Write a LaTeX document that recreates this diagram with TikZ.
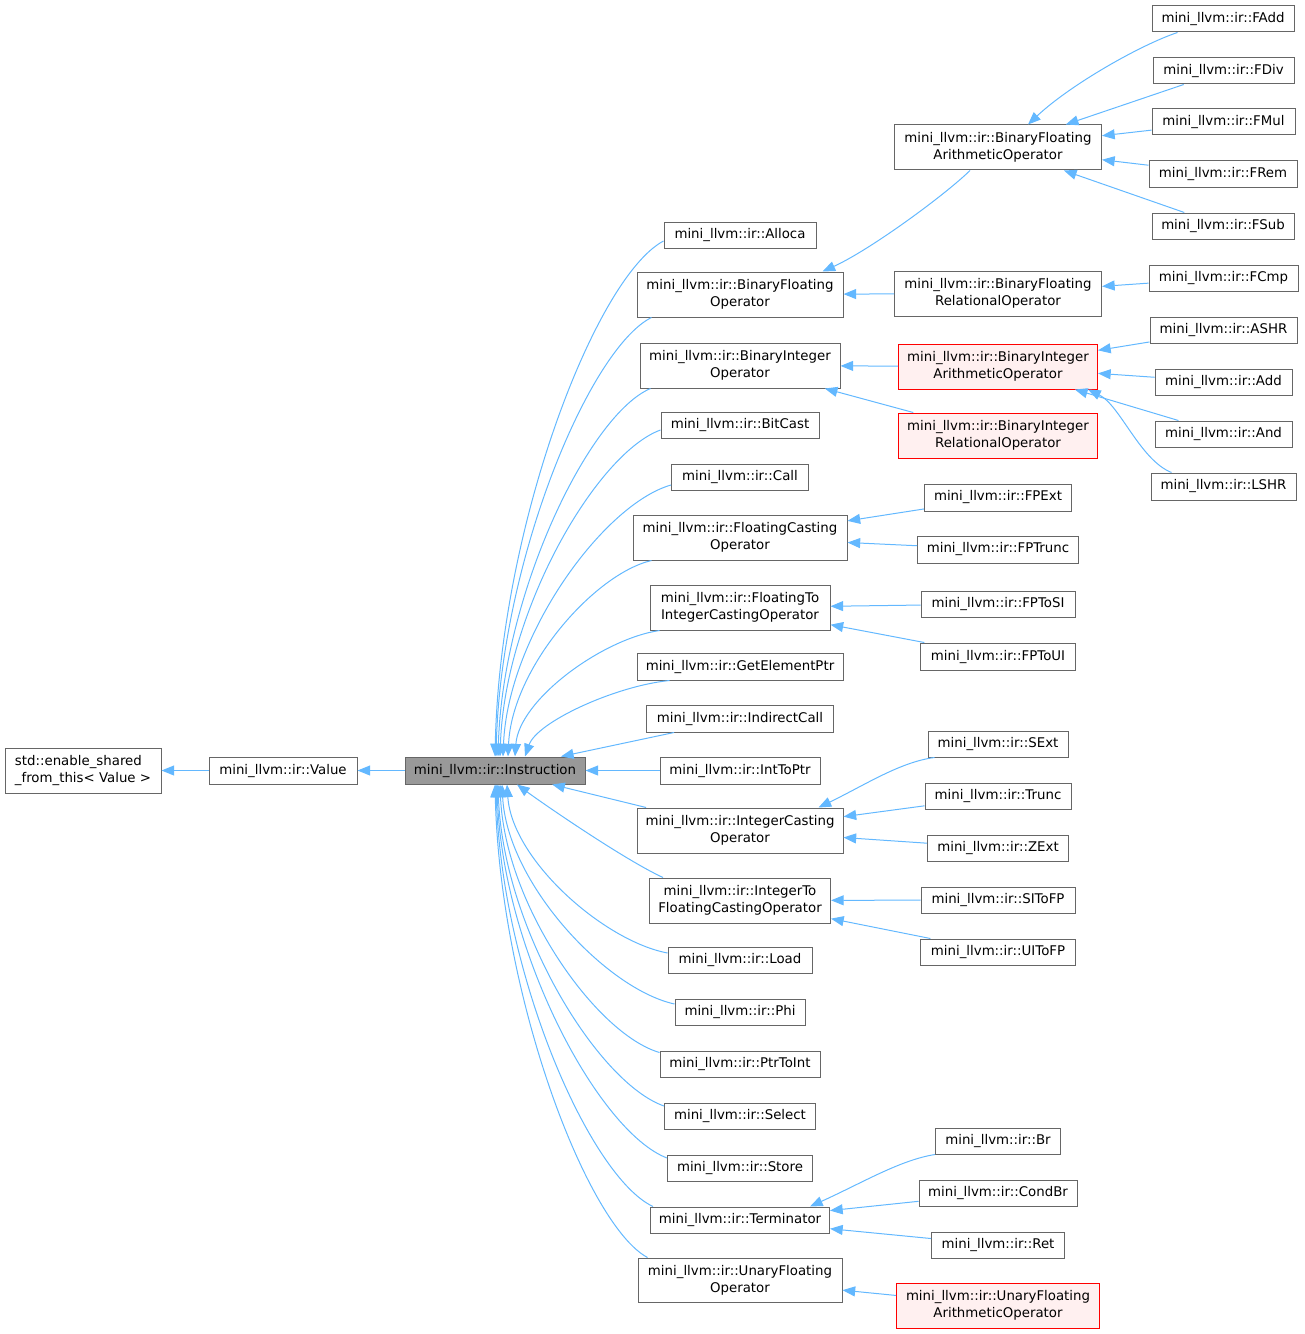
\documentclass[tikz,border=0pt]{standalone}
\usepackage{fontspec}
\setmainfont{DejaVu Sans}
\usetikzlibrary{arrows.meta,calc}
\definecolor{edgeblue}{HTML}{63B8FF}
\definecolor{boxgray}{HTML}{666666}
\definecolor{instfill}{HTML}{999999}
\definecolor{redfill}{HTML}{FFF0F0}
\newdimen\pxu \pxu=0.75pt
\tikzset{
  cls/.style={draw=boxgray, line width=0.75pt, fill=white, inner sep=0pt, align=center,
    font=\fontsize{10pt}{12.75pt}\selectfont, minimum height=26\pxu},
  cls2/.style={cls, minimum height=45\pxu},
  redcls/.style={cls2, draw=red, fill=redfill},
  inh/.style={draw=edgeblue, line width=0.75pt, {Triangle[length=9.5pt,width=7.5pt]}-},
}
\begin{document}
\begin{tikzpicture}[x=0.75pt, y=-0.75pt]
\useasboundingbox (0,0) rectangle (1304,1334);

% left column
\node[cls2, align=left, minimum width=156\pxu] (std) at (83,770.5) {std::enable\_shared\\\_from\_this< Value >};
\node[cls, minimum width=148\pxu, minimum height=27\pxu] (value) at (283,770.5) {mini\_llvm::ir::Value};
\node[cls, minimum width=180\pxu, minimum height=27\pxu, fill=instfill] (instr) at (495,770.5) {mini\_llvm::ir::Instruction};

% middle column
\node[cls, minimum width=152\pxu] (alloca) at (740,235) {mini\_llvm::ir::Alloca};
\node[cls2, minimum width=206\pxu] (bfo) at (740,294.5) {mini\_llvm::ir::BinaryFloating\\Operator};
\node[cls2, minimum width=200\pxu] (bio) at (740,365.5) {mini\_llvm::ir::BinaryInteger\\Operator};
\node[cls, minimum width=158\pxu] (bitcast) at (740,425) {mini\_llvm::ir::BitCast};
\node[cls, minimum width=137\pxu] (call) at (740,477) {mini\_llvm::ir::Call};
\node[cls2, minimum width=214\pxu] (fco) at (740,537.5) {mini\_llvm::ir::FloatingCasting\\Operator};
\node[cls2, minimum width=180\pxu] (fti) at (740,607.5) {mini\_llvm::ir::FloatingTo\\IntegerCastingOperator};
\node[cls, minimum width=206\pxu, minimum height=27\pxu] (gep) at (740,666.5) {mini\_llvm::ir::GetElementPtr};
\node[cls, minimum width=187\pxu, minimum height=27\pxu] (icall) at (740,718.5) {mini\_llvm::ir::IndirectCall};
\node[cls, minimum width=160\pxu, minimum height=27\pxu] (inttoptr) at (740,770.5) {mini\_llvm::ir::IntToPtr};
\node[cls2, minimum width=206\pxu] (ico) at (740,830.5) {mini\_llvm::ir::IntegerCasting\\Operator};
\node[cls2, minimum width=181\pxu] (itf) at (740,900.5) {mini\_llvm::ir::IntegerTo\\FloatingCastingOperator};
\node[cls, minimum width=144\pxu] (load) at (740,960) {mini\_llvm::ir::Load};
\node[cls, minimum width=130\pxu] (phi) at (740,1012) {mini\_llvm::ir::Phi};
\node[cls, minimum width=160\pxu] (ptrtoint) at (740,1064) {mini\_llvm::ir::PtrToInt};
\node[cls, minimum width=151\pxu] (select) at (740,1116) {mini\_llvm::ir::Select};
\node[cls, minimum width=145\pxu] (store) at (740,1168) {mini\_llvm::ir::Store};
\node[cls, minimum width=179\pxu] (term) at (740,1220) {mini\_llvm::ir::Terminator};
\node[cls2, minimum width=204\pxu, minimum height=44\pxu] (ufo) at (740,1280) {mini\_llvm::ir::UnaryFloating\\Operator};

% second right column
\node[cls2, minimum width=207\pxu] (bfa) at (998,147.5) {mini\_llvm::ir::BinaryFloating\\ArithmeticOperator};
\node[cls2, minimum width=207\pxu] (bfr) at (998,293.5) {mini\_llvm::ir::BinaryFloating\\RelationalOperator};
\node[redcls, minimum width=199\pxu] (bia) at (998,366.5) {mini\_llvm::ir::BinaryInteger\\ArithmeticOperator};
\node[redcls, minimum width=199\pxu] (bir) at (998,435.5) {mini\_llvm::ir::BinaryInteger\\RelationalOperator};
\node[cls, minimum width=147\pxu, minimum height=27\pxu] (fpext) at (998,497.5) {mini\_llvm::ir::FPExt};
\node[cls, minimum width=161\pxu, minimum height=27\pxu] (fptrunc) at (998,549.5) {mini\_llvm::ir::FPTrunc};
\node[cls, minimum width=154\pxu] (fptosi) at (998,604) {mini\_llvm::ir::FPToSI};
\node[cls, minimum width=155\pxu, minimum height=27\pxu] (fptoui) at (998,656.5) {mini\_llvm::ir::FPToUI};
\node[cls, minimum width=140\pxu] (sext) at (998,744) {mini\_llvm::ir::SExt};
\node[cls, minimum width=146\pxu] (trunc) at (998,796) {mini\_llvm::ir::Trunc};
\node[cls, minimum width=141\pxu] (zext) at (998,848) {mini\_llvm::ir::ZExt};
\node[cls, minimum width=154\pxu] (sitofp) at (998,900) {mini\_llvm::ir::SIToFP};
\node[cls, minimum width=155\pxu] (uitofp) at (998,952) {mini\_llvm::ir::UIToFP};
\node[cls, minimum width=125\pxu] (br) at (998,1141) {mini\_llvm::ir::Br};
\node[cls, minimum width=158\pxu] (condbr) at (998,1193) {mini\_llvm::ir::CondBr};
\node[cls, minimum width=133\pxu] (ret) at (998,1245) {mini\_llvm::ir::Ret};
\node[redcls, minimum width=203\pxu] (ufa) at (998,1305.5) {mini\_llvm::ir::UnaryFloating\\ArithmeticOperator};

% rightmost column
\node[cls, minimum width=142\pxu] (fadd) at (1223,19) {mini\_llvm::ir::FAdd};
\node[cls, minimum width=141\pxu] (fdiv) at (1223.5,71) {mini\_llvm::ir::FDiv};
\node[cls, minimum width=143\pxu] (fmul) at (1223.5,122) {mini\_llvm::ir::FMul};
\node[cls, minimum width=148\pxu] (frem) at (1223,174) {mini\_llvm::ir::FRem};
\node[cls, minimum width=142\pxu] (fsub) at (1223,226) {mini\_llvm::ir::FSub};
\node[cls, minimum width=149\pxu] (fcmp) at (1223.5,278) {mini\_llvm::ir::FCmp};
\node[cls, minimum width=147\pxu] (ashr) at (1223.5,330) {mini\_llvm::ir::ASHR};
\node[cls, minimum width=137\pxu] (add) at (1223.5,382) {mini\_llvm::ir::Add};
\node[cls, minimum width=137\pxu] (and) at (1223.5,434) {mini\_llvm::ir::And};
\node[cls, minimum width=145\pxu, minimum height=27\pxu] (lshr) at (1223.5,486.5) {mini\_llvm::ir::LSHR};

% straight edges
\draw[inh] (std) -- (value);
\draw[inh] (value) -- (instr);
\draw[inh] (instr) -- (inttoptr);
\draw[inh] (instr) -- (icall);
\draw[inh] (instr) -- (ico);
\draw[inh] (bfo) -- (bfr);
\draw[inh] (bio) -- (bia);
\draw[inh] (bio) -- (bir);
\draw[inh] (fco) -- (fpext);
\draw[inh] (fco) -- (fptrunc);
\draw[inh] (fti) -- (fptosi);
\draw[inh] (fti) -- (fptoui);
\draw[inh] (ico) -- (trunc);
\draw[inh] (ico) -- (zext);
\draw[inh] (itf) -- (sitofp);
\draw[inh] (itf) -- (uitofp);
\draw[inh] (term) -- (condbr);
\draw[inh] (term) -- (ret);
\draw[inh] (ufo) -- (ufa);
\draw[inh] (bfa) -- (fdiv);
\draw[inh] (bfa) -- (fmul);
\draw[inh] (bfa) -- (frem);
\draw[inh] (bfa) -- (fsub);
\draw[inh] (bfr) -- (fcmp);
\draw[inh] (bia) -- (ashr);
\draw[inh] (bia) -- (add);
\draw[inh] (bia) -- (and);

% curved edges into Instruction (top)
\draw[inh] ($(instr.north)+(0,0)$) .. controls (500,525) and (596,277) .. ($(alloca.west)+(0,6)$);
\draw[inh] ($(instr.north)+(1,0)$) .. controls (501,559) and (590,348) .. ($(bfo.south west)+(15,0)$);
\draw[inh] ($(instr.north)+(3,0)$) .. controls (503,591) and (590,414) .. ($(bio.south west)+(11,0)$);
\draw[inh] ($(instr.north)+(5,0)$) .. controls (505,610) and (597,453) .. ($(bitcast.west)+(0,5)$);
\draw[inh] ($(instr.north)+(8,0)$) .. controls (508,635) and (604,504) .. ($(call.west)+(0,8)$);
\draw[inh] ($(instr.north)+(13,0)$) .. controls (512,668) and (594,574) .. ($(fco.south west)+(19,0)$);
\draw[inh] ($(instr.north)+(20,0)$) .. controls (519,700) and (602,639) .. ($(fti.south west)+(10,0)$);
\draw[inh] ($(instr.north)+(30,0)$) .. controls (537,722) and (615,686) .. ($(gep.south west)+(33,0)$);

% curved edges into Instruction (bottom)
\draw[inh] ($(instr.south)+(22,0)$) .. controls (545,805) and (625,860) .. ($(itf.north west)+(14,0)$);
\draw[inh] ($(instr.south)+(12,0)$) .. controls (512,860) and (604,941) .. ($(load.west)+(0,-7)$);
\draw[inh] ($(instr.south)+(7,0)$) .. controls (507,883) and (606,989) .. ($(phi.west)+(0,-8)$);
\draw[inh] ($(instr.south)+(5,0)$) .. controls (505,905) and (596,1034) .. ($(ptrtoint.north west)+(0,2)$);
\draw[inh] ($(instr.south)+(3,0)$) .. controls (503,929) and (598,1083) .. ($(select.west)+(0,-10)$);
\draw[inh] ($(instr.south)+(2,0)$) .. controls (502,952) and (599,1132) .. ($(store.west)+(0,-10)$);
\draw[inh] ($(instr.south)+(1,0)$) .. controls (501,974) and (590,1177) .. ($(term.north west)+(3,0)$);
\draw[inh] ($(instr.south)+(0,0)$) .. controls (500,997) and (587,1225) .. ($(ufo.north west)+(10,0)$);

% other curved edges
\draw[inh] ($(bfo.north east)+(-21,0)$) .. controls (870,250) and (945,195) .. ($(bfa.south west)+(76,0)$);
\draw[inh] ($(bfa.north west)+(134,0)$) .. controls (1070,85) and (1140,45) .. ($(fadd.south west)+(26,0)$);
\draw[inh] ($(bia.south east)+(-10,0)$) .. controls (1120,405) and (1140,460) .. ($(lshr.north west)+(21,0)$);
\draw[inh] ($(ico.north east)+(-25,0)$) .. controls (865,785) and (900,762) .. ($(sext.south west)+(7,0)$);
\draw[inh] ($(term.north east)+(-20,0)$) .. controls (862,1183) and (900,1160) .. ($(br.south west)+(0,0)$);
\end{tikzpicture}
\end{document}
